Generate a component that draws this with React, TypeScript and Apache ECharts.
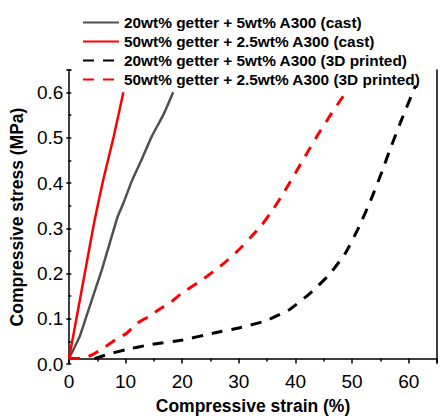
import React, { useEffect, useRef } from "react";
import * as echarts from "echarts";

const seriesNames = [
  "20wt% getter + 5wt% A300 (cast)",
  "50wt% getter + 2.5wt% A300 (cast)",
  "20wt% getter + 5wt% A300 (3D printed)",
  "50wt% getter + 2.5wt% A300 (3D printed)",
];

const castGrayStrain = [0, 1.9, 3.2, 4.5, 5.8, 7.2, 8.6, 9.6, 11.1, 12.9, 14.6, 16.7, 18.4];
const castGrayStress = [0, 0.05, 0.1, 0.15, 0.2, 0.26, 0.32, 0.35, 0.4, 0.45, 0.5, 0.55, 0.6];

const castRedStrain = [0, 1.5, 3.0, 4.5, 6.0, 7.9, 9.6];
const castRedStress = [0, 0.103, 0.207, 0.31, 0.4, 0.5, 0.6];

const printBlackStrain = [4.5, 7, 10, 14.2, 20.1, 25.4, 30, 34.5, 38.9, 42.4, 45.9, 48.8, 51.2, 53.5, 55.3, 57, 58.8, 60.7, 61.2];
const printBlackStress = [0, 0.01, 0.02, 0.031, 0.042, 0.057, 0.069, 0.084, 0.11, 0.145, 0.188, 0.237, 0.296, 0.363, 0.422, 0.481, 0.54, 0.599, 0.615];

const printRedStrain = [0, 2.5, 4.3, 6.1, 8.2, 10.2, 12, 14, 16.1, 18.1, 20, 23.6, 27.4, 30, 32, 34, 36, 38, 40, 42, 44, 46, 48, 49];
const printRedStress = [0, 0, 0.01, 0.024, 0.042, 0.057, 0.079, 0.094, 0.112, 0.128, 0.148, 0.178, 0.215, 0.245, 0.272, 0.3, 0.335, 0.375, 0.418, 0.462, 0.505, 0.545, 0.583, 0.6];

const xTicks = { min: 0, max: 65, interval: 10 };
const yTicks = { min: 0, max: 0.65, interval: 0.1 };

const pairs = (xs: number[], ys: number[]) => xs.map((x, i) => [x, ys[i]]);

const FONT = "'Liberation Sans', Arial, sans-serif";

export default function App() {
  const ref = useRef<HTMLDivElement>(null);
  useEffect(() => {
    if (!ref.current) return;
    const chart = echarts.init(ref.current, null, { renderer: "svg" });
    const axisLine = { show: true, lineStyle: { color: "#000", width: 1.5 } };
    const dash = [11, 9];
    const tickStyle = { color: "#000", width: 1.5 };
    const baseSeries = {
      type: "line",
      xAxisIndex: 0,
      yAxisIndex: 0,
      symbol: "none",
      showSymbol: false,
      smooth: 0.15,
    };
    chart.setOption({
      animation: false,
      textStyle: { fontFamily: FONT },
      legend: {
        orient: "vertical",
        left: 82,
        top: 15,
        padding: 0,
        itemWidth: 36,
        itemHeight: 12,
        itemGap: 4,
        itemStyle: { opacity: 0 },
        data: seriesNames,
        textStyle: { fontFamily: FONT, fontSize: 15.4, fontWeight: "bold", color: "#000" },
      },
      grid: [
        { left: 69, right: 2.5, top: 70, bottom: 51.5 },
        { left: 69, right: 2.5, top: 70, bottom: 56 },
      ],
      xAxis: [
        {
          gridIndex: 0,
          type: "value",
          min: xTicks.min,
          max: xTicks.max,
          interval: xTicks.interval,
          axisLine,
          axisTick: { show: true, inside: false, length: 5, lineStyle: tickStyle },
          minorTick: { show: true, splitNumber: 2, length: 3, lineStyle: tickStyle },
          splitLine: { show: false },
          axisLabel: {
            fontFamily: FONT,
            fontSize: 19,
            color: "#000",
            margin: 9,
            formatter: (v: number) => (v % 10 === 0 ? String(v) : ""),
          },
          name: "Compressive strain (%)",
          nameLocation: "middle",
          nameGap: 34,
          nameTextStyle: { fontFamily: FONT, fontSize: 17.5, fontWeight: "bold", color: "#000" },
        },
        {
          gridIndex: 1,
          type: "value",
          min: xTicks.min,
          max: xTicks.max,
          show: false,
        },
      ],
      yAxis: [
        {
          gridIndex: 0,
          type: "value",
          min: -0.01,
          max: yTicks.max,
          axisLine,
          axisTick: { show: false },
          axisLabel: { show: false },
          splitLine: { show: false },
        },
        {
          gridIndex: 0,
          type: "value",
          position: "right",
          min: -0.01,
          max: yTicks.max,
          axisLine,
          axisTick: { show: false },
          axisLabel: { show: false },
          splitLine: { show: false },
        },
        {
          gridIndex: 1,
          type: "value",
          min: yTicks.min,
          max: yTicks.max,
          interval: yTicks.interval,
          axisLine: { show: false },
          axisTick: { show: true, inside: false, length: 5, lineStyle: tickStyle },
          minorTick: { show: true, splitNumber: 2, length: 3, lineStyle: tickStyle },
          splitLine: { show: false },
          axisLabel: {
            fontFamily: FONT,
            fontSize: 19,
            color: "#000",
            margin: 8,
            formatter: (v: number) =>
              Math.abs(v * 10 - Math.round(v * 10)) < 1e-6 ? v.toFixed(1) : "",
          },
          name: "Compressive stress (MPa)",
          nameLocation: "middle",
          nameGap: 40,
          nameTextStyle: { fontFamily: FONT, fontSize: 17.5, fontWeight: "bold", color: "#000" },
        },
      ],
      series: [
        {
          ...baseSeries,
          name: seriesNames[0],
          data: pairs(castGrayStrain, castGrayStress),
          lineStyle: { color: "#505050", width: 2.5 },
          itemStyle: { color: "#505050" },
        },
        {
          ...baseSeries,
          name: seriesNames[1],
          data: pairs(castRedStrain, castRedStress),
          lineStyle: { color: "#ff0000", width: 2.5 },
          itemStyle: { color: "#ff0000" },
        },
        {
          ...baseSeries,
          name: seriesNames[2],
          data: pairs(printBlackStrain, printBlackStress),
          lineStyle: { color: "#000000", width: 3, type: dash },
          itemStyle: { color: "#000000" },
        },
        {
          ...baseSeries,
          name: seriesNames[3],
          data: pairs(printRedStrain, printRedStress),
          lineStyle: { color: "#ff0000", width: 3, type: dash },
          itemStyle: { color: "#ff0000" },
        },
      ],
    });
    return () => chart.dispose();
  }, []);
  return (
    <div
      ref={ref}
      style={{ position: "fixed", left: 0, top: 0, width: 440, height: 420, background: "#fff" }}
    />
  );
}
